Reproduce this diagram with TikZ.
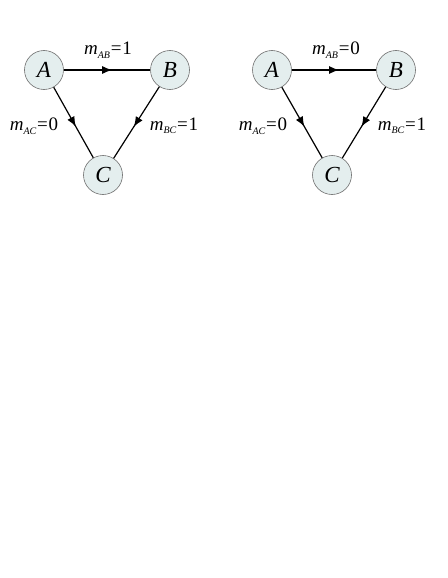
\documentclass[tikz,border=0pt]{standalone}
\usepackage{fontspec}
\setmainfont{Liberation Serif}
\usetikzlibrary{decorations.markings,arrows.meta}
\definecolor{nodefill}{RGB}{228,238,238}
\definecolor{nodeline}{RGB}{110,110,110}
\tikzset{
  vert/.style={circle,draw=nodeline,line width=0.6pt,fill=nodefill,minimum size=39pt,inner sep=0pt,font=\fontsize{23}{23}\selectfont\itshape},
  edge/.style={line width=1.2pt,postaction={decorate},decoration={markings,mark=at position 0.56 with {\arrow{Latex[length=10pt,width=8pt]}}}},
  lab/.style={font=\fontsize{19}{19}\selectfont,inner sep=0pt}
}
\newcommand{\mlab}[2]{\textit{m}\raisebox{-0.4ex}{\fontsize{10}{10}\selectfont\itshape #1}\kern0.8pt=\kern0.8pt#2}
\begin{document}
\begin{tikzpicture}[x=1pt,y=1pt]
\useasboundingbox (0,0) rectangle (447,-578);
% left
\node[vert] (A1) at (44,-70) {A};
\node[vert] (B1) at (170,-70) {B};
\node[vert] (C1) at (103,-175) {C};
\draw[edge] (A1) -- (B1);
\draw[edge] (A1) -- (C1);
\draw[edge] (B1) -- (C1);
\node[lab] (l1ab) at (108,-50) {\mlab{AB}{1}};
\node[lab] (l1ac) at (34,-126) {\mlab{AC}{0}};
\node[lab] (l1bc) at (174,-126) {\mlab{BC}{1}};
% right
\node[vert] (A2) at (272,-70) {A};
\node[vert] (B2) at (396,-70) {B};
\node[vert] (C2) at (332,-175) {C};
\draw[edge] (A2) -- (B2);
\draw[edge] (A2) -- (C2);
\draw[edge] (B2) -- (C2);
\node[lab] (l2ab) at (336,-50) {\mlab{AB}{0}};
\node[lab] (l2ac) at (263,-126) {\mlab{AC}{0}};
\node[lab] (l2bc) at (402,-126) {\mlab{BC}{1}};
\end{tikzpicture}
\end{document}
